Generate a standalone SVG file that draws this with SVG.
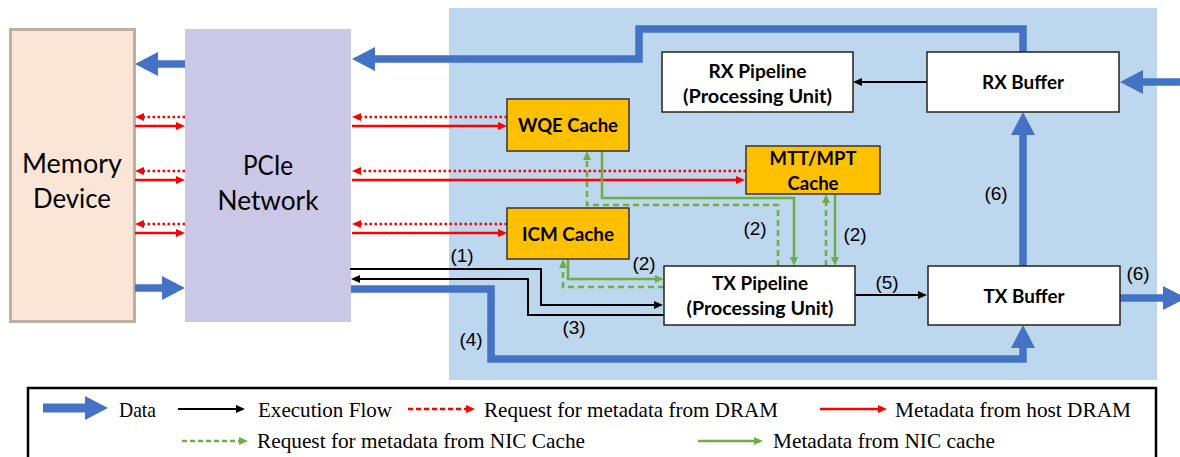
<svg xmlns="http://www.w3.org/2000/svg" width="1180" height="457" viewBox="0 0 1180 457">
  <defs>
    <marker id="bh" markerUnits="userSpaceOnUse" viewBox="0 0 23 24" refX="2" refY="12" markerWidth="23" markerHeight="24" orient="auto">
      <path d="M0,0 L23,12 L0,24 Z" fill="#4472C4"/>
    </marker>
    <marker id="kh" markerUnits="userSpaceOnUse" viewBox="0 0 9 8" refX="1" refY="4" markerWidth="9" markerHeight="8" orient="auto">
      <path d="M0,0 L9,4 L0,8 Z" fill="#000"/>
    </marker>
    <marker id="rh" markerUnits="userSpaceOnUse" viewBox="0 0 9 8" refX="1" refY="4" markerWidth="9" markerHeight="8" orient="auto">
      <path d="M0,0 L9,4 L0,8 Z" fill="#FF0000"/>
    </marker>
    <marker id="gh" markerUnits="userSpaceOnUse" viewBox="0 0 9 8" refX="1" refY="4" markerWidth="9" markerHeight="8" orient="auto">
      <path d="M0,0 L9,4 L0,8 Z" fill="#70AD47"/>
    </marker>
  </defs>
  <style>
    .blue { fill: none; stroke: #4472C4; stroke-width: 7.5; marker-end: url(#bh); }
    .blk { fill: none; stroke: #000; stroke-width: 2; marker-end: url(#kh); }
    .rs { fill: none; stroke: #FF0000; stroke-width: 2.5; marker-end: url(#rh); }
    .rd { fill: none; stroke: #FF0000; stroke-width: 2.5; stroke-dasharray: 2.5 2.5; marker-end: url(#rh); }
    .gs { fill: none; stroke: #70AD47; stroke-width: 2.5; marker-end: url(#gh); }
    .gd { fill: none; stroke: #70AD47; stroke-width: 2.5; stroke-dasharray: 6 4; marker-end: url(#gh); }
    .box { fill: #FFFFFF; stroke: #222; stroke-width: 1.5; }
    .cache { fill: #FFC000; stroke: #333; stroke-width: 1.5; }
    .bl { font-family: Lato, "Liberation Sans", sans-serif; font-weight: bold; font-size: 19px; fill: #000; text-anchor: middle; }
    .big { font-family: Lato, "Liberation Sans", sans-serif; font-size: 26px; fill: #000; text-anchor: middle; }
    .num { font-family: "Liberation Sans", Arial, sans-serif; font-size: 19px; fill: #000; text-anchor: middle; }
    .leg { font-family: "Liberation Serif", "Times New Roman", serif; font-size: 21px; fill: #000; }
  </style>

  <rect x="449" y="8" width="708" height="372" fill="#BDD7EE"/>

  <g id="memory-device">
    <rect x="10.5" y="29.5" width="124" height="292" fill="#FBE5D6" stroke="#BFAEA2" stroke-width="3"/>
    <text class="big" x="72" y="173" textLength="100" lengthAdjust="spacingAndGlyphs">Memory</text>
    <text class="big" x="72" y="208" textLength="78" lengthAdjust="spacingAndGlyphs">Device</text>
  </g>

  <g id="pcie-network">
    <rect x="185" y="29" width="166" height="293" fill="#CBC7E6"/>
    <text class="big" x="268" y="175" textLength="50" lengthAdjust="spacingAndGlyphs">PCIe</text>
    <text class="big" x="268" y="210" textLength="101" lengthAdjust="spacingAndGlyphs">Network</text>
  </g>

  <g id="connectors">
    <path class="blue" d="M185,64 L156,64"/>
    <path class="blue" d="M135,288 L164,288"/>
    <path class="blue" d="M1023,52 L1023,29 L639,29 L639,59 L373,59"/>
    <path class="blue" d="M1180,82 L1141,82"/>
    <path class="blue" d="M1023,266 L1023,133"/>
    <path class="blue" d="M1120,298 L1165,298"/>
    <path class="blue" d="M351,289 L491,289 L491,359 L1023,359 L1023,346"/>

    <path class="rd" d="M185,117 L143,117"/>
    <path class="rs" d="M135,126 L177,126"/>
    <path class="rd" d="M185,171 L143,171"/>
    <path class="rs" d="M135,180 L177,180"/>
    <path class="rd" d="M185,224 L143,224"/>
    <path class="rs" d="M135,233 L177,233"/>

    <path class="rd" d="M507,117 L360,117"/>
    <path class="rs" d="M352,126 L499,126"/>
    <path class="rd" d="M746,171 L360,171"/>
    <path class="rs" d="M352,180 L737,180"/>
    <path class="rd" d="M507,224 L360,224"/>
    <path class="rs" d="M352,233 L499,233"/>

    <path class="gs" d="M602,151 L602,198 L794,198 L794,258"/>
    <path class="gd" d="M778,266 L778,205 L587,205 L587,159"/>
    <path class="gd" d="M826,266 L826,202"/>
    <path class="gs" d="M835,194 L835,258"/>
    <path class="gs" d="M568,259 L568,279 L656,279"/>
    <path class="gd" d="M664,287 L563,287 L563,267"/>

    <path class="blk" d="M350,269 L541,269 L541,305 L655,305"/>
    <path class="blk" d="M664,315 L528,315 L528,279 L359,279"/>
    <path class="blk" d="M855,295 L919,295"/>
    <path class="blk" d="M927,82 L861,82"/>

    <text class="num" x="462" y="262">(1)</text>
    <text class="num" x="644" y="270">(2)</text>
    <text class="num" x="755" y="235">(2)</text>
    <text class="num" x="855" y="241">(2)</text>
    <text class="num" x="574" y="334">(3)</text>
    <text class="num" x="471" y="346">(4)</text>
    <text class="num" x="887" y="289">(5)</text>
    <text class="num" x="996" y="200">(6)</text>
    <text class="num" x="1138" y="280">(6)</text>
  </g>

  <g id="wqe-cache">
    <rect class="cache" x="507" y="99" width="122" height="52"/>
    <text class="bl" x="568" y="132" textLength="100" lengthAdjust="spacingAndGlyphs">WQE Cache</text>
  </g>
  <g id="icm-cache">
    <rect class="cache" x="507" y="208" width="122" height="51"/>
    <text class="bl" x="568" y="241" textLength="92" lengthAdjust="spacingAndGlyphs">ICM Cache</text>
  </g>
  <g id="mtt-mpt-cache">
    <rect class="cache" x="746" y="146" width="134" height="48"/>
    <text class="bl" x="813" y="165" textLength="87" lengthAdjust="spacingAndGlyphs">MTT/MPT</text>
    <text class="bl" x="813" y="190" textLength="51" lengthAdjust="spacingAndGlyphs">Cache</text>
  </g>
  <g id="rx-pipeline">
    <rect class="box" x="662" y="52" width="191" height="60"/>
    <text class="bl" x="757.5" y="78" textLength="98" lengthAdjust="spacingAndGlyphs">RX Pipeline</text>
    <text class="bl" x="757.5" y="103" textLength="149" lengthAdjust="spacingAndGlyphs">(Processing Unit)</text>
  </g>
  <g id="rx-buffer">
    <rect class="box" x="927" y="52" width="192" height="60"/>
    <text class="bl" x="1023" y="89" textLength="82" lengthAdjust="spacingAndGlyphs">RX Buffer</text>
  </g>
  <g id="tx-pipeline">
    <rect class="box" x="664" y="266" width="191" height="59"/>
    <text class="bl" x="760" y="290" textLength="96" lengthAdjust="spacingAndGlyphs">TX Pipeline</text>
    <text class="bl" x="760" y="315" textLength="147" lengthAdjust="spacingAndGlyphs">(Processing Unit)</text>
  </g>
  <g id="tx-buffer">
    <rect class="box" x="928" y="266" width="192" height="59"/>
    <text class="bl" x="1024" y="303" textLength="81" lengthAdjust="spacingAndGlyphs">TX Buffer</text>
  </g>

  <g id="legend">
    <rect x="28" y="388" width="1128" height="80" fill="#FFFFFF" stroke="#000" stroke-width="2.5"/>
    <path class="blue" d="M43,408 L87,408" style="stroke-width:9"/>
    <text class="leg" x="119" y="417" textLength="37" lengthAdjust="spacingAndGlyphs">Data</text>
    <path class="blk" d="M178,409 L237,409"/>
    <text class="leg" x="258" y="417" textLength="134" lengthAdjust="spacingAndGlyphs">Execution Flow</text>
    <path class="rd" d="M408,409 L467,409" style="stroke-dasharray:5 3"/>
    <text class="leg" x="484" y="417" textLength="294" lengthAdjust="spacingAndGlyphs">Request for metadata from DRAM</text>
    <path class="rs" d="M820,409 L879,409"/>
    <text class="leg" x="895" y="417" textLength="236" lengthAdjust="spacingAndGlyphs">Metadata from host DRAM</text>
    <path class="gd" d="M182,441 L240,441" style="stroke-dasharray:5 3"/>
    <text class="leg" x="257" y="448" textLength="328" lengthAdjust="spacingAndGlyphs">Request for metadata from NIC Cache</text>
    <path class="gs" d="M698,441 L755,441"/>
    <text class="leg" x="773" y="448" textLength="222" lengthAdjust="spacingAndGlyphs">Metadata from NIC cache</text>
  </g>
</svg>
